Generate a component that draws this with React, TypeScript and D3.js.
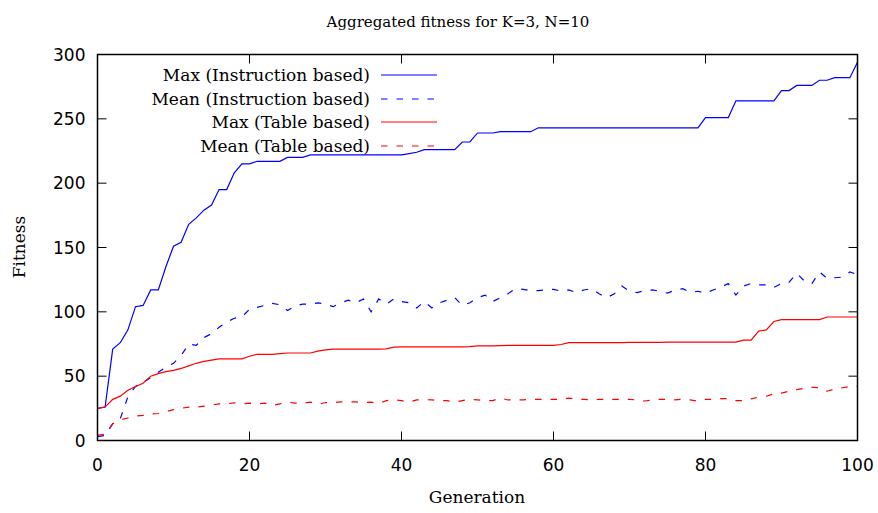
import React, { useRef, useEffect } from 'react';
import * as d3 from 'd3';

// values, one per generation 0..100
const maxInstruction = [
  25, 26, 71, 76, 86, 104, 105, 117, 117, 135, 151, 154, 168, 173, 179, 183, 195, 195, 208, 215,
  215, 217, 217, 217, 217, 220, 220, 220, 222, 222, 222, 222, 222, 222, 222, 222, 222, 222, 222, 222,
  222, 223, 224, 226, 226, 226, 226, 226, 232, 232, 239, 239, 239, 240, 240, 240, 240, 240, 243, 243,
  243, 243, 243, 243, 243, 243, 243, 243, 243, 243, 243, 243, 243, 243, 243, 243, 243, 243, 243, 243,
  251, 251, 251, 251, 264, 264, 264, 264, 264, 264, 272, 272, 276, 276, 276, 280, 280, 282, 282, 282,
  294
];
const meanInstruction = [
  3, 4, 13, 17, 34, 42, 45, 49, 53, 57, 60, 66, 75, 74, 80, 83, 88, 92, 95, 96,
  102, 103.5, 105, 106.5, 105.5, 101, 104.5, 106, 106, 107, 106, 104, 107, 109, 107, 110, 100, 110, 106, 110,
  108, 107, 103, 108, 103, 107, 109, 111, 105, 107, 111, 113, 108, 111, 114, 118, 117.5, 116.5, 116.5, 117,
  117.5, 116, 117, 115, 117, 118, 114, 111, 114, 120, 116, 115, 116.5, 117, 116, 114.5, 117, 118, 115, 116,
  114.5, 117, 119, 122, 113, 120, 122, 121, 121, 119, 122, 123, 130, 124, 122, 131, 126, 126.5, 127, 131,
  129
];
const maxTable = [
  25, 26, 32, 34.5, 39, 42, 44.5, 50, 52, 53.5, 54.5, 56, 58, 60, 61.5, 62.5, 63.5, 63.5, 63.5, 63.5,
  65.5, 67, 67, 67, 67.5, 68, 68, 68, 68, 69.5, 70.5, 71, 71, 71, 71, 71, 71, 71, 71.2, 72.5,
  72.8, 72.8, 72.8, 72.8, 72.8, 72.8, 72.8, 72.8, 72.8, 73, 73.5, 73.5, 73.5, 73.8, 74, 74, 74, 74, 74, 74,
  74, 74.6, 76, 76, 76, 76, 76, 76, 76, 76, 76.2, 76.2, 76.2, 76.2, 76.3, 76.4, 76.4, 76.4, 76.4, 76.4,
  76.4, 76.4, 76.4, 76.4, 76.5, 78, 78, 85, 86, 92.5, 94, 94, 94, 94, 94, 94, 96, 96, 96, 96,
  96
];
const meanTable = [
  4, 5, 13, 16, 17.5, 19, 19.5, 20.5, 21, 22.5, 24, 25, 26, 26, 26.7, 27.5, 28.5, 28.5, 29.3, 28.5,
  29, 28.5, 29, 27.2, 28.5, 29.8, 29, 29, 29.8, 28, 29.5, 29.5, 30, 30, 30, 29.5, 29.8, 28.7, 31, 31.6,
  31, 29.8, 31.5, 31.8, 31.5, 31, 31, 29.8, 31, 32, 31.5, 31, 31, 33, 31.5, 31.5, 31.5, 32, 32, 32,
  32, 32, 33, 32, 32, 31.5, 32, 32, 32, 32, 32, 31.5, 30.7, 31.5, 32, 32, 31.6, 32, 31.5, 30.5,
  32, 32, 32.5, 32.5, 31, 31, 32.4, 33.7, 34.4, 36.3, 36.8, 38.3, 39.6, 40.6, 41.4, 41, 38.3, 40, 41, 42,
  42
];

const xTicks = [0, 20, 40, 60, 80, 100];
const yTicks = [0, 50, 100, 150, 200, 250, 300];

const series = [
  { name: 'Max (Instruction based)', values: maxInstruction, color: '#0000ff', dash: null },
  { name: 'Mean (Instruction based)', values: meanInstruction, color: '#0000ff', dash: '6.5,9' },
  { name: 'Max (Table based)', values: maxTable, color: '#ff0000', dash: null },
  { name: 'Mean (Table based)', values: meanTable, color: '#ff0000', dash: '6.5,9' },
];

const FONT = '"DejaVu Serif", serif';
const TICK_FONT = '"DejaVu Sans", sans-serif';

function App() {
  const svgRef = useRef(null);

  useEffect(() => {
    const width = 878;
    const height = 513;
    const left = 97.5, right = 857.5, top = 54.5, bottom = 440.5;

    const svg = d3.select(svgRef.current)
      .attr('width', width)
      .attr('height', height);
    svg.selectAll('*').remove();

    const x = d3.scaleLinear().domain([0, 100]).range([left, right]);
    const y = d3.scaleLinear().domain([0, 300]).range([bottom, top]);

    const tickLen = 9;

    // inward ticks on all four sides (gnuplot mirror style)
    const tickG = svg.append('g').attr('stroke', '#000').attr('stroke-width', 1);
    xTicks.forEach(t => {
      tickG.append('line').attr('x1', x(t)).attr('x2', x(t)).attr('y1', bottom).attr('y2', bottom - tickLen);
      tickG.append('line').attr('x1', x(t)).attr('x2', x(t)).attr('y1', top).attr('y2', top + tickLen);
    });
    yTicks.forEach(t => {
      tickG.append('line').attr('x1', left).attr('x2', left + tickLen).attr('y1', y(t)).attr('y2', y(t));
      tickG.append('line').attr('x1', right).attr('x2', right - tickLen).attr('y1', y(t)).attr('y2', y(t));
    });

    // tick labels
    svg.append('g').selectAll('text')
      .data(xTicks)
      .enter()
      .append('text')
      .attr('x', d => x(d))
      .attr('y', bottom + 30)
      .attr('text-anchor', 'middle')
      .attr('font-family', TICK_FONT)
      .attr('font-size', 17)
      .text(d => d);

    svg.append('g').selectAll('text')
      .data(yTicks)
      .enter()
      .append('text')
      .attr('x', left - 12)
      .attr('y', d => y(d) + 6)
      .attr('text-anchor', 'end')
      .attr('font-family', TICK_FONT)
      .attr('font-size', 17)
      .text(d => d);

    // data lines
    const line = d3.line<number>()
      .x((d, i) => x(i))
      .y(d => y(d));

    series.forEach(s => {
      svg.append('path')
        .datum(s.values)
        .attr('fill', 'none')
        .attr('stroke', s.color)
        .attr('stroke-width', 1.2)
        .attr('stroke-dasharray', s.dash)
        .attr('d', line);
    });

    // legend
    const legendY = [75, 99, 122, 146];
    series.forEach((s, i) => {
      svg.append('text')
        .attr('x', 370)
        .attr('y', legendY[i] + 6)
        .attr('text-anchor', 'end')
        .attr('font-family', FONT)
        .attr('font-size', 17)
        .text(s.name);
      svg.append('line')
        .attr('x1', 381)
        .attr('x2', 437)
        .attr('y1', legendY[i])
        .attr('y2', legendY[i])
        .attr('stroke', s.color)
        .attr('stroke-width', 1.2)
        .attr('stroke-dasharray', s.dash);
    });

    // frame
    svg.append('rect')
      .attr('x', left)
      .attr('y', top)
      .attr('width', right - left)
      .attr('height', bottom - top)
      .attr('fill', 'none')
      .attr('stroke', '#000')
      .attr('stroke-width', 1.5);

    // titles
    svg.append('text')
      .attr('x', 458)
      .attr('y', 27)
      .attr('text-anchor', 'middle')
      .attr('font-family', FONT)
      .attr('font-size', 15)
      .text('Aggregated fitness for K=3, N=10');

    svg.append('text')
      .attr('x', 477)
      .attr('y', 503)
      .attr('text-anchor', 'middle')
      .attr('font-family', FONT)
      .attr('font-size', 17)
      .text('Generation');

    svg.append('text')
      .attr('transform', 'translate(25,247)rotate(-90)')
      .attr('text-anchor', 'middle')
      .attr('font-family', FONT)
      .attr('font-size', 17)
      .text('Fitness');
  }, []);

  return (
    <svg ref={svgRef} style={{ position: 'absolute', left: 0, top: 0 }}></svg>
  );
}

export default App;
